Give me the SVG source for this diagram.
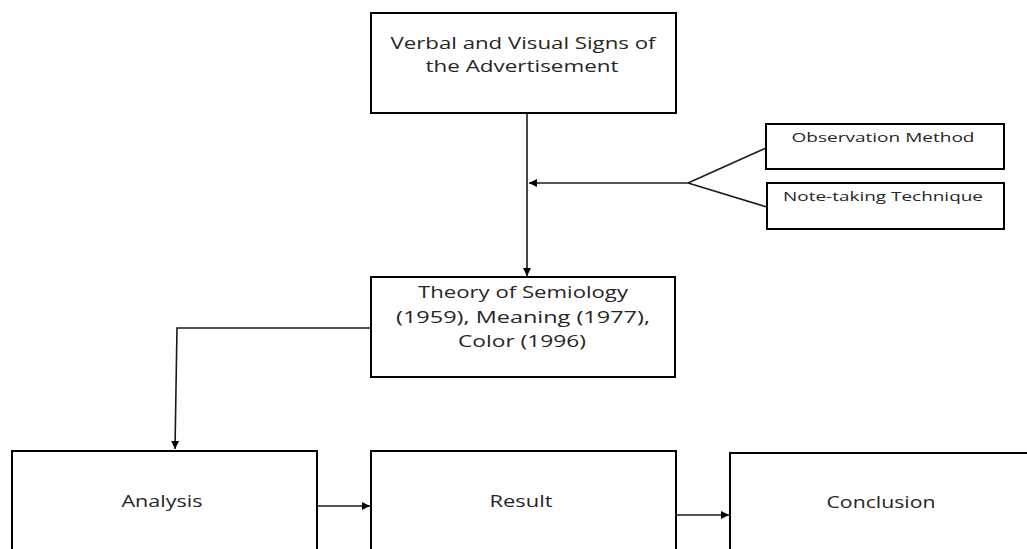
<svg xmlns="http://www.w3.org/2000/svg" width="1027" height="549" viewBox="0 0 1027 549">
<style>
.box{fill:#fff;stroke:#000;stroke-width:2}
.t{font-family:"Open Sans","Noto Sans",sans-serif;font-size:17px;fill:#262626;text-anchor:middle}
.s{font-size:13px}
.c{fill:none;stroke:#1a1a1a;stroke-width:1.6}
</style>
<defs>
<marker id="ah" markerUnits="userSpaceOnUse" markerWidth="9" markerHeight="8" refX="8" refY="4" orient="auto">
<path d="M0,0 L8,4 L0,8 Z" fill="#000"/>
</marker>
</defs>
<rect width="1027" height="549" fill="#fff"/>
<g id="connectors">
<line class="c" x1="527" y1="113" x2="527" y2="276" marker-end="url(#ah)"/>
<line class="c" x1="688" y1="183" x2="529" y2="183" marker-end="url(#ah)"/>
<line class="c" x1="688" y1="183" x2="766" y2="148"/>
<line class="c" x1="688" y1="183" x2="767" y2="207"/>
<polyline class="c" points="371,328 177,328 175,449" marker-end="url(#ah)"/>
<line class="c" x1="318" y1="506" x2="370" y2="506" marker-end="url(#ah)"/>
<line class="c" x1="677" y1="515" x2="729" y2="515" marker-end="url(#ah)"/>
</g>
<g id="node-signs">
<rect class="box" x="371" y="13" width="305" height="100"/>
<text class="t" x="523" y="49" textLength="265" lengthAdjust="spacingAndGlyphs">Verbal and Visual Signs of</text>
<text class="t" x="522" y="72" textLength="193" lengthAdjust="spacingAndGlyphs">the Advertisement</text>
</g>
<g id="node-observation">
<rect class="box" x="766" y="124" width="238" height="45"/>
<text class="t s" x="883" y="142" textLength="183" lengthAdjust="spacingAndGlyphs">Observation Method</text>
</g>
<g id="node-notetaking">
<rect class="box" x="767" y="183" width="237" height="46"/>
<text class="t s" x="883" y="201" textLength="200" lengthAdjust="spacingAndGlyphs">Note-taking Technique</text>
</g>
<g id="node-theory">
<rect class="box" x="371" y="277" width="304" height="100"/>
<text class="t" x="523" y="298" textLength="210" lengthAdjust="spacingAndGlyphs">Theory of Semiology</text>
<text class="t" x="523" y="323" textLength="254" lengthAdjust="spacingAndGlyphs">(1959), Meaning (1977),</text>
<text class="t" x="522" y="347" textLength="128" lengthAdjust="spacingAndGlyphs">Color (1996)</text>
</g>
<g id="node-analysis">
<rect class="box" x="12" y="451" width="305" height="120"/>
<text class="t" x="162" y="507" textLength="81" lengthAdjust="spacingAndGlyphs">Analysis</text>
</g>
<g id="node-result">
<rect class="box" x="371" y="451" width="305" height="120"/>
<text class="t" x="521" y="507" textLength="63" lengthAdjust="spacingAndGlyphs">Result</text>
</g>
<g id="node-conclusion">
<rect class="box" x="730" y="453" width="320" height="120"/>
<text class="t" x="881" y="508" textLength="109" lengthAdjust="spacingAndGlyphs">Conclusion</text>
</g>
</svg>
